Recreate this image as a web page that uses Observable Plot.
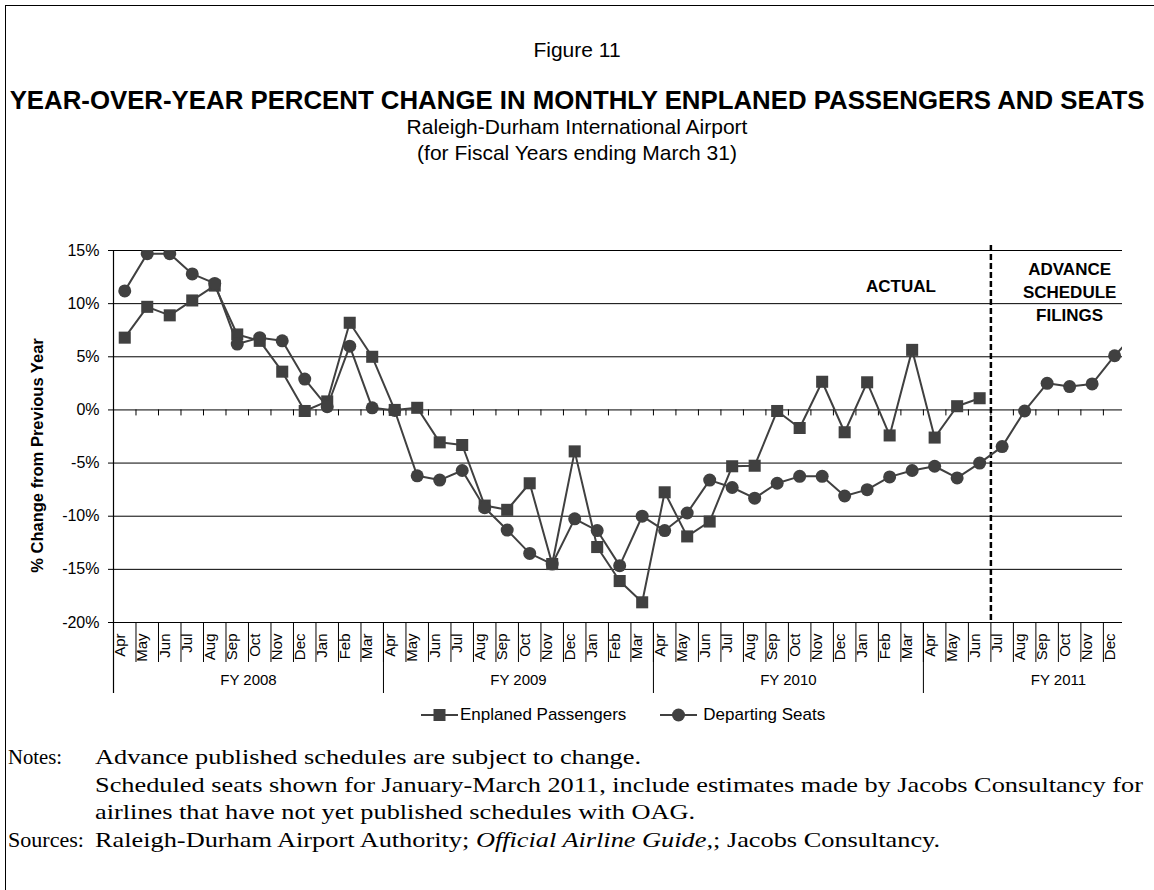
<!DOCTYPE html>
<html>
<head>
<meta charset="utf-8">
<script src="https://cdn.jsdelivr.net/npm/d3@7"></script>
<script src="https://cdn.jsdelivr.net/npm/@observablehq/plot@0.6"></script>
<style>
  html, body { margin: 0; padding: 0; background: #fff; }
  #page { position: relative; width: 1154px; height: 890px; overflow: hidden;
          font-family: Arial, "Liberation Sans", sans-serif; color: #000; }
  #frame { position: absolute; left: 5px; top: 5px; right: -10px; bottom: -10px;
           border-left: 1.5px solid #000; border-top: 1.5px solid #000; }
  .head { position: absolute; left: 0; width: 1154px; text-align: center; white-space: nowrap; }
  #fig   { top: 37px;  font-size: 21px; line-height: 26px; }
  #title { top: 86px;  font-size: 25.8px; line-height: 28px; font-weight: bold; }
  #sub1  { top: 114px; font-size: 21px; line-height: 26px; }
  #sub2  { top: 140px; font-size: 21px; line-height: 26px; }
  #chart { position: absolute; left: 0; top: 230px; }
  #legend { position: absolute; left: 421px; top: 704px; height: 22px; display: flex;
            align-items: center; font-size: 17px; white-space: nowrap; }
  #legend svg { display: block; }
  .note { position: absolute; font-family: "Liberation Serif", "Times New Roman", serif;
          font-size: 21.5px; line-height: 28px; white-space: nowrap; transform-origin: 0 50%; }
</style>
</head>
<body>
<div id="page">
  <div id="frame"></div>
  <div class="head" id="fig">Figure 11</div>
  <div class="head" id="title">YEAR-OVER-YEAR PERCENT CHANGE IN MONTHLY ENPLANED PASSENGERS AND SEATS</div>
  <div class="head" id="sub1">Raleigh-Durham International Airport</div>
  <div class="head" id="sub2">(for Fiscal Years ending March 31)</div>
  <div id="chart"></div>
  <div id="legend"></div>
  <div class="note" id="l1" style="left:8px;top:743px">Notes:</div>
  <div class="note" id="n1" style="left:95px;top:743px">Advance published schedules are subject to change.</div>
  <div class="note" id="n2" style="left:95px;top:771px">Scheduled seats shown for January-March 2011, include estimates made by Jacobs Consultancy for</div>
  <div class="note" id="n3" style="left:95px;top:798px">airlines that have not yet published schedules with OAG.</div>
  <div class="note" id="l2" style="left:8px;top:826px">Sources:</div>
  <div class="note" id="s1" style="left:95px;top:826px">Raleigh-Durham Airport Authority; <i>Official Airline Guide,</i>; Jacobs Consultancy.</div>
</div>
<script>
// Months from April 2007 (start of FY 2008) onward; the last entry (Jan 2011)
// runs past the right edge of the plot.
const periods = [
  "Apr","May","Jun","Jul","Aug","Sep","Oct","Nov","Dec","Jan","Feb","Mar",
  "Apr","May","Jun","Jul","Aug","Sep","Oct","Nov","Dec","Jan","Feb","Mar",
  "Apr","May","Jun","Jul","Aug","Sep","Oct","Nov","Dec","Jan","Feb","Mar",
  "Apr","May","Jun","Jul","Aug","Sep","Oct","Nov","Dec","Jan"
];
const fiscalYears = ["FY 2008", "FY 2009", "FY 2010", "FY 2011"];

// Year-over-year % change, actual enplaned passengers (Apr 2007 - Jun 2010)
const enplaned = [
  6.8, 9.7, 8.9, 10.3, 11.7, 7.1, 6.5, 3.6, -0.1, 0.8, 8.2, 5.0,
  0.0, 0.2, -3.05, -3.3, -9.0, -9.4, -6.9, -14.5, -3.9, -12.9, -16.1, -18.1,
  -7.75, -11.9, -10.5, -5.3, -5.25, -0.1, -1.7, 2.65, -2.1, 2.6, -2.4, 5.65,
  -2.6, 0.35, 1.1
];

// Year-over-year % change, departing seats (actual, then advance schedules)
const seats = [
  11.2, 14.7, 14.7, 12.8, 11.9, 6.2, 6.8, 6.5, 2.9, 0.3, 6.0, 0.2,
  -0.05, -6.2, -6.6, -5.7, -9.2, -11.3, -13.5, -14.5, -10.25, -11.35, -14.65, -10.0,
  -11.35, -9.7, -6.6, -7.3, -8.3, -6.9, -6.25, -6.25, -8.1, -7.5, -6.3, -5.7,
  -5.3, -6.4, -5.0, -3.45, -0.1, 2.5, 2.2, 2.45, 5.1, 7.4
];

const yTicks = [-20, -15, -10, -5, 0, 5, 10, 15];
const yTitle = "% Change from Previous Year";
const actualLabel = "ACTUAL";
const advanceLabel = "ADVANCE\nSCHEDULE\nFILINGS";
const seriesNames = ["Enplaned Passengers", "Departing Seats"];

const ink = "#404040";
const xMax = 44.35;                        // plot is cut off inside the Dec 2010 column
const shownMonths = d3.range(periods.length).filter(i => i <= xMax);
const monthEdges = d3.range(0, periods.length).map(i => i - 0.5).filter(e => e <= xMax);
const yearEdges = d3.range(1, fiscalYears.length).map(k => k * 12 - 0.5);
const actualEnd = enplaned.length - 0.5;   // boundary between actual and scheduled data

const rowsE = enplaned.map((v, i) => ({i, v}));
const rowsS = seats.map((v, i) => ({i, v}));

const chart = Plot.plot({
  width: 1154,
  height: 480,
  marginTop: 20,
  marginLeft: 113,
  marginRight: 32,
  marginBottom: 88,
  style: {fontFamily: "Arial, 'Liberation Sans', sans-serif", fontSize: "16px", color: "#000", background: "transparent", overflow: "visible"},
  x: {type: "linear", domain: [-0.5, xMax], axis: null, label: null},
  y: {domain: [-20, 15], axis: null, label: null},
  marks: [
    Plot.gridY(yTicks, {stroke: "#000", strokeOpacity: 1, strokeWidth: 1}),
    Plot.axisY(yTicks, {tickSize: 5, tickPadding: 9, tickFormat: d => `${d}%`, fontSize: 16, stroke: "#000", label: null}),
    // vertical axis line, extended through the category label box
    Plot.ruleX([-0.5], {stroke: "#000", strokeWidth: 1.2, insetBottom: -71}),
    // small category ticks along the 0% line
    Plot.ruleX(monthEdges, {x: d => d, y1: 0, y2: 0, insetBottom: -6, stroke: "#000"}),
    // month and fiscal-year dividers below the plot
    Plot.ruleX(monthEdges, {x: d => d, y1: -20, y2: -20, insetBottom: -40, stroke: "#000"}),
    Plot.ruleX(yearEdges, {x: d => d, y1: -20, y2: -20, insetBottom: -71, stroke: "#000"}),
    Plot.text(shownMonths, {x: d => d, text: d => periods[d], frameAnchor: "bottom", rotate: -90,
      textAnchor: "end", dy: 11, fontSize: 15, fill: "#000"}),
    Plot.text(fiscalYears, {x: (d, k) => k * 12 + 5.5, text: d => d, frameAnchor: "bottom",
      dy: 62, fontSize: 15, fill: "#000"}),
    Plot.text([yTitle], {frameAnchor: "left", textAnchor: "middle", rotate: -90, dx: -76, dy: 19,
      fontWeight: "bold", fontSize: 16.5, fill: "#000"}),
    // actual vs. advance schedule divider
    Plot.ruleX([actualEnd], {stroke: "#000", strokeWidth: 2.5, strokeDasharray: "6,3", insetTop: -5}),
    Plot.text([actualLabel], {x: 34.5, y: 11.6, text: d => d, fontWeight: "bold", fontSize: 17, fill: "#000"}),
    Plot.text([advanceLabel], {x: 42, y: 11.2, text: d => d, fontWeight: "bold", fontSize: 17,
      lineHeight: 1.35, fill: "#000"}),
    // series
    Plot.line(rowsE, {x: "i", y: "v", stroke: ink, strokeWidth: 2, clip: true}),
    Plot.dot(rowsE, {x: "i", y: "v", symbol: "square", r: 6.8, fill: ink, stroke: "none", clip: true}),
    Plot.line(rowsS, {x: "i", y: "v", stroke: ink, strokeWidth: 2, clip: true}),
    Plot.dot(rowsS, {x: "i", y: "v", symbol: "circle", r: 6.5, fill: ink, stroke: "none", clip: true})
  ]
});
document.getElementById("chart").append(chart);

// Legend: line with marker swatches
const legend = document.getElementById("legend");
const sw = (shape) => {
  const s = d3.create("svg").attr("width", 37).attr("height", 16);
  s.append("line").attr("x1", 0).attr("x2", 37).attr("y1", 8).attr("y2", 8)
    .attr("stroke", ink).attr("stroke-width", 2);
  if (shape === "square") s.append("rect").attr("x", 12.5).attr("y", 2).attr("width", 12).attr("height", 12).attr("fill", ink);
  else s.append("circle").attr("cx", 18.5).attr("cy", 8).attr("r", 6.5).attr("fill", ink);
  return s.node();
};
legend.append(sw("square"));
const t1 = document.createElement("span"); t1.textContent = seriesNames[0]; t1.style.marginLeft = "2px";
legend.append(t1);
const s2 = sw("circle"); s2.style.marginLeft = "34px"; legend.append(s2);
const t2 = document.createElement("span"); t2.textContent = seriesNames[1]; t2.style.marginLeft = "6px";
legend.append(t2);

// Stretch the serif notes to their set measure
const fit = (id, w) => {
  const el = document.getElementById(id);
  return w / el.getBoundingClientRect().width;
};
const k = fit("n2", 1048);
["n1", "n2", "n3", "s1"].forEach(id => document.getElementById(id).style.transform = `scaleX(${k})`);
document.getElementById("l1").style.transform = `scaleX(${fit("l1", 54)})`;
document.getElementById("l2").style.transform = `scaleX(${fit("l2", 76)})`;
</script>
</body>
</html>
